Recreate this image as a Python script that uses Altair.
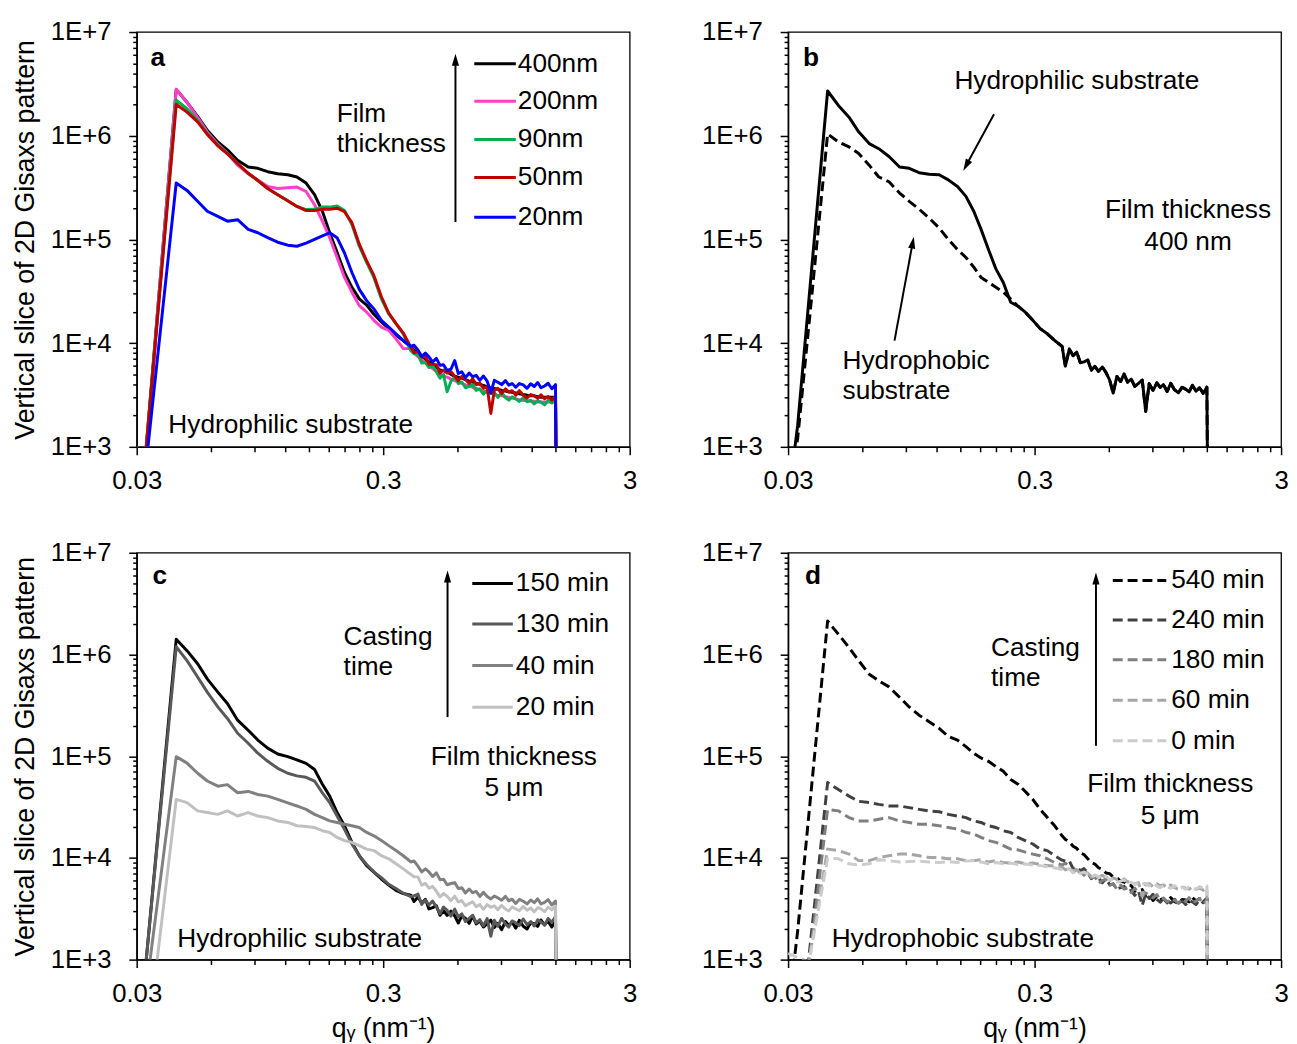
import math
import altair as alt
import pandas as pd

# ---------------------------------------------------------------- data
Q = [0.030, 0.0328, 0.0365, 0.0434,
     0.048, 0.053, 0.058, 0.064, 0.070, 0.077, 0.085, 0.093, 0.102, 0.112,
     0.123, 0.134, 0.146, 0.158, 0.170, 0.182, 0.195, 0.209, 0.224, 0.240,
     0.257, 0.275, 0.295, 0.316, 0.338, 0.362,
     0.388, 0.40, 0.415, 0.43, 0.445, 0.46, 0.476, 0.493, 0.51, 0.527,
     0.545, 0.565, 0.585, 0.605, 0.625, 0.647, 0.67, 0.692, 0.715, 0.74,
     0.765, 0.792, 0.82, 0.847, 0.875, 0.907, 0.94, 0.97, 1.00, 1.035,
     1.07, 1.11, 1.15, 1.19, 1.23, 1.27, 1.31, 1.355, 1.40, 1.45, 1.50,
     1.51]

# panel a : hydrophilic substrate, film thickness series
A_NAMES = ["400nm", "200nm", "90nm", "50nm", "20nm"]
A_400 = [300, 1000, 2.1e4, 2.8e6,
         2.1e6, 1.54e6, 1.13e6, 8.7e5, 7.3e5, 5.8e5, 5.0e5, 4.85e5, 4.5e5, 4.3e5,
         4.2e5, 4.0e5, 3.5e5, 2.7e5, 1.87e5, 1.16e5, 7.5e4, 4.8e4, 3.45e4, 2.67e4,
         2.33e4, 1.9e4, 1.6e4, 1.38e4, 1.19e4, 1.06e4,
         9.2e3, 8.6e3, 8.0e3, 7.5e3, 7.0e3, 6.6e3, 6.3e3, 5.9e3, 5.5e3, 5.4e3,
         5.3e3, 5.0e3, 4.8e3, 4.7e3, 4.6e3, 4.45e3, 4.3e3, 4.2e3, 4.1e3, 4.0e3,
         3.9e3, 3.8e3, 3.7e3, 3.65e3, 3.6e3, 3.5e3, 3.45e3, 3.4e3, 3.35e3, 3.3e3,
         3.25e3, 3.2e3, 3.15e3, 3.1e3, 3.1e3, 3.05e3, 3.0e3, 3.0e3, 3.0e3, 3.0e3, 3.0e3,
         500]
A_200 = [1000, 700, 2.1e4, 2.8e6,
         2.1e6, 1.5e6, 1.09e6, 8.3e5, 6.75e5, 5.2e5, 4.3e5, 3.75e5, 3.24e5, 3.1e5,
         3.15e5, 3.2e5, 2.9e5, 2.16e5, 1.5e5, 1.04e5, 6.7e4, 4.3e4, 3.1e4, 2.3e4,
         1.99e4, 1.66e4, 1.43e4, 1.33e4, 1.1e4, 8.85e3,
         8.9e3, 8.0e3, 7.4e3, 6.9e3, 6.4e3, 6.0e3, 5.7e3, 5.3e3, 5.0e3, 4.8e3,
         4.7e3, 4.5e3, 4.35e3, 4.2e3, 4.1e3, 3.95e3, 3.85e3, 3.75e3, 3.65e3, 3.55e3,
         3.45e3, 3.35e3, 3.3e3, 3.2e3, 3.15e3, 3.1e3, 3.05e3, 3.0e3, 2.95e3, 2.9e3,
         2.85e3, 2.8e3, 2.8e3, 2.75e3, 2.75e3, 2.7e3, 2.7e3, 2.7e3, 2.7e3, 2.7e3, 2.7e3,
         500]
A_90 = [300, 1000, 1.9e4, 2.2e6,
        1.82e6, 1.41e6, 1.05e6, 8.1e5, 6.75e5, 5.4e5, 4.35e5, 3.7e5, 3.1e5, 2.7e5,
        2.36e5, 2.08e5, 1.94e5, 1.95e5, 2.05e5, 2.05e5, 2.1e5, 1.9e5, 1.39e5, 8.6e4,
        6.0e4, 4.3e4, 2.67e4, 1.91e4, 1.54e4, 1.23e4,
        8.46e3, 7.92e3, 7.77e3, 6.42e3, 6.53e3, 5.82e3, 6.04e3, 5.3e3, 4.6e3, 4.99e3,
        3.4e3, 4.28e3, 4.7e3, 4.07e3, 4.22e3, 3.71e3, 3.85e3, 3.98e3, 3.5e3, 3.62e3,
        3.21e3, 3.52e3, 3.27e3, 3.33e3, 2.99e3, 3.32e3, 2.99e3, 2.82e3, 3.04e3, 2.9e3,
        2.74e3, 2.97e3, 2.72e3, 2.81e3, 2.59e3, 2.78e3, 2.7e3, 2.54e3, 2.81e3, 2.65e3, 2.89e3,
        500]
A_50 = [300, 1000, 1.82e4, 2.0e6,
        1.69e6, 1.36e6, 1.03e6, 8.0e5, 6.7e5, 5.4e5, 4.35e5, 3.7e5, 3.1e5, 2.7e5,
        2.36e5, 2.08e5, 1.9e5, 1.9e5, 1.95e5, 1.95e5, 2.0e5, 1.85e5, 1.45e5, 9.0e4,
        6.2e4, 4.5e4, 2.8e4, 1.95e4, 1.55e4, 1.25e4,
        9.2e3, 8.08e3, 8.32e3, 7.35e3, 7.49e3, 6.27e3, 6.24e3, 6.2e3, 5.12e3, 5.51e3,
        5.14e3, 5.3e3, 4.8e3, 4.32e3, 4.78e3, 4.49e3, 4.09e3, 4.54e3, 3.98e3, 4.12e3,
        3.67e3, 3.8e3, 2.1e3, 3.5e3, 3.67e3, 3.26e3, 3.62e3, 3.37e3, 3.48e3, 3.14e3,
        3.48e3, 3.14e3, 2.96e3, 3.19e3, 3.1e3, 2.93e3, 3.18e3, 2.91e3, 3.06e3, 2.82e3, 3.09e3,
        500]
A_20 = [100, 700, 7.5e3, 3.5e5,
        2.97e5, 2.33e5, 1.87e5, 1.67e5, 1.5e5, 1.55e5, 1.25e5, 1.16e5, 1.04e5, 9.4e4,
        8.8e4, 8.6e4, 9.2e4, 1.0e5, 1.08e5, 1.16e5, 1.04e5, 7.4e4, 4.8e4, 3.3e4,
        2.57e4, 2.14e4, 1.66e4, 1.43e4, 1.23e4, 1.06e4,
        9.31e3, 9.54e3, 8.6e3, 7.45e3, 8.01e3, 7.37e3, 6.56e3, 7.13e3, 6.11e3, 6.18e3,
        5.45e3, 5.6e3, 6.8e3, 5.09e3, 5.3e3, 4.65e3, 5.15e3, 4.75e3, 4.89e3, 4.37e3,
        4.82e3, 4.31e3, 3.3e3, 4.38e3, 4.2e3, 3.98e3, 4.35e3, 3.93e3, 4.08e3, 3.76e3,
        4.07e3, 3.95e3, 3.67e3, 4.06e3, 3.82e3, 4.17e3, 3.71e3, 3.86e3, 4.1e3, 3.63e3, 3.98e3,
        500]
A_VALUES = [A_400, A_200, A_90, A_50, A_20]

# panel b : 400 nm film, hydrophilic vs hydrophobic substrate
B_NAMES = ["Hydrophilic", "Hydrophobic"]
B_PHIL = [300, 1.6e3, 2.75e4, 2.7e6,
          1.96e6, 1.51e6, 1.09e6, 8.4e5, 7.5e5, 6.3e5, 5.0e5, 4.85e5, 4.4e5, 4.25e5,
          4.2e5, 3.75e5, 3.24e5, 2.6e5, 1.87e5, 1.25e5, 8.0e4, 5.2e4, 3.85e4, 2.48e4,
          2.27e4, 1.99e4, 1.66e4, 1.38e4, 1.23e4, 1.06e4,
          9.3e3, 6.0e3, 8.8e3, 7.57e3, 8.18e3, 6.48e3, 6.6e3, 6.88e3, 5.46e3, 5.97e3,
          5.35e3, 5.89e3, 5.2e3, 4.4e3, 3.3e3, 4.77e3, 4.26e3, 5.04e3, 4.2e3, 4.49e3,
          3.82e3, 4.1e3, 4.41e3, 2.2e3, 4.07e3, 3.49e3, 4.14e3, 3.74e3, 3.98e3, 3.42e3,
          4.09e3, 3.54e3, 3.32e3, 3.76e3, 3.6e3, 3.38e3, 3.92e3, 3.44e3, 3.71e3, 3.28e3, 3.76e3,
          500]
B_PHOB = [300, 1.2e3, 1.55e4, 1.04e6,
          8.7e5, 7.8e5, 6.75e5, 5.2e5, 4.0e5, 3.6e5, 2.8e5, 2.33e5, 1.96e5, 1.61e5,
          1.29e5, 1.0e5, 8.0e4, 6.7e4, 5.4e4, 4.3e4, 3.85e4, 3.45e4, 3.1e4, 2.67e4,
          2.27e4, 1.99e4, 1.66e4, 1.38e4, 1.23e4, 1.06e4,
          9.3e3, 6.0e3, 8.8e3, 7.57e3, 8.18e3, 6.48e3, 6.6e3, 6.88e3, 5.46e3, 5.97e3,
          5.35e3, 5.89e3, 5.2e3, 4.4e3, 3.3e3, 4.77e3, 4.26e3, 5.04e3, 4.2e3, 4.49e3,
          3.82e3, 4.1e3, 4.41e3, 2.2e3, 4.07e3, 3.49e3, 4.14e3, 3.74e3, 3.98e3, 3.42e3,
          4.09e3, 3.54e3, 3.32e3, 3.76e3, 3.6e3, 3.38e3, 3.92e3, 3.44e3, 3.71e3, 3.28e3, 3.76e3,
          500]
B_VALUES = [B_PHIL, B_PHOB]

# panel c : 5 um film on hydrophilic substrate, casting time series
C_NAMES = ["150 min", "130 min", "40 min", "20 min"]
C_150 = [300, 1000, 1.6e4, 1.41e6,
         1.09e6, 8.1e5, 5.75e5, 4.26e5, 3.3e5, 2.26e5, 1.8e5, 1.44e5, 1.2e5, 1.05e5,
         9.9e4, 9.2e4, 8.5e4, 7.4e4, 5.3e4, 4.05e4, 2.79e4, 2.07e4, 1.42e4, 1.05e4,
         8.4e3, 7.25e3, 6.2e3, 5.4e3, 4.8e3, 4.46e3,
         4.3e3, 3.73e3, 4.13e3, 3.59e3, 3.92e3, 3.15e3, 3.25e3, 3.39e3, 2.73e3, 3.04e3,
         2.72e3, 3.0e3, 2.7e3, 2.29e3, 2.7e3, 2.54e3, 2.27e3, 2.69e3, 2.24e3, 2.4e3,
         2.09e3, 2.25e3, 2.45e3, 2.07e3, 2.27e3, 1.97e3, 2.37e3, 2.17e3, 2.33e3, 2.04e3,
         2.43e3, 2.13e3, 2.0e3, 2.3e3, 2.25e3, 2.12e3, 2.45e3, 2.2e3, 2.37e3, 2.09e3, 2.4e3,
         500]
C_130 = [300, 1000, 1.5e4, 1.19e6,
         8.7e5, 6.0e5, 4.26e5, 3.05e5, 2.35e5, 1.68e5, 1.34e5, 1.07e5, 8.9e4, 7.6e4,
         6.8e4, 6.4e4, 6.2e4, 5.7e4, 4.36e4, 3.5e4, 2.58e4, 1.91e4, 1.37e4, 1.05e4,
         8.6e3, 7.3e3, 6.4e3, 5.5e3, 5.0e3, 4.5e3,
         4.16e3, 4.24e3, 4.41e3, 3.49e3, 3.86e3, 3.44e3, 3.76e3, 3.3e3, 2.82e3, 3.29e3,
         3.05e3, 2.68e3, 3.14e3, 2.63e3, 2.82e3, 2.37e3, 2.55e3, 2.73e3, 2.3e3, 2.47e3,
         2.15e3, 2.53e3, 1.7e3, 2.44e3, 2.13e3, 2.54e3, 2.23e3, 2.09e3, 2.4e3, 2.3e3,
         2.16e3, 2.51e3, 2.2e3, 2.37e3, 2.14e3, 2.46e3, 2.35e3, 2.18e3, 2.54e3, 2.33e3, 2.65e3,
         500]
C_40 = [100, 508, 3.8e3, 9.9e4,
        8.55e4, 6.8e4, 5.7e4, 5.07e4, 5.25e4, 4.37e4, 4.5e4, 4.2e4, 4.05e4, 3.76e4,
        3.48e4, 3.24e4, 3.0e4, 2.68e4, 2.49e4, 2.31e4, 2.23e4, 2.14e4, 2.07e4, 1.99e4,
        1.78e4, 1.65e4, 1.48e4, 1.32e4, 1.18e4, 1.05e4,
        9.12e3, 9.33e3, 8.3e3, 7.27e3, 7.8e3, 7.27e3, 6.56e3, 7.13e3, 6.11e3, 6.18e3,
        5.45e3, 5.6e3, 5.72e3, 4.99e3, 5.1e3, 4.51e3, 4.94e3, 4.55e3, 4.68e3, 4.18e3,
        4.6e3, 4.17e3, 3.95e3, 4.22e3, 4.05e3, 3.84e3, 4.19e3, 3.78e3, 3.93e3, 3.57e3,
        3.91e3, 3.75e3, 3.53e3, 3.85e3, 3.63e3, 3.96e3, 3.52e3, 3.66e3, 3.89e3, 3.44e3, 3.77e3,
        500]
C_20 = [50, 124, 1.1e3, 3.76e4,
        3.5e4, 2.9e4, 2.79e4, 2.68e4, 2.9e4, 2.58e4, 2.79e4, 2.58e4, 2.49e4, 2.31e4,
        2.23e4, 2.07e4, 2.04e4, 1.99e4, 1.85e4, 1.78e4, 1.59e4, 1.48e4, 1.42e4, 1.32e4,
        1.22e4, 1.18e4, 1.05e4, 9.8e3, 8.75e3, 7.8e3,
        6.89e3, 6.53e3, 6.51e3, 5.39e3, 5.61e3, 5.04e3, 5.25e3, 4.7e3, 4.14e3, 4.47e3,
        4.19e3, 3.8e3, 4.21e3, 3.69e3, 3.81e3, 3.38e3, 3.55e3, 3.71e3, 3.31e3, 3.47e3,
        3.12e3, 3.47e3, 3.27e3, 3.38e3, 3.09e3, 3.42e3, 3.14e3, 3.01e3, 3.3e3, 3.15e3,
        3.02e3, 3.34e3, 3.06e3, 3.21e3, 2.96e3, 3.24e3, 3.15e3, 2.96e3, 3.28e3, 3.09e3, 3.37e3,
        500]
C_VALUES = [C_150, C_130, C_40, C_20]

# panel d : 5 um film on hydrophobic substrate, casting time series
D_NAMES = ["540 min", "240 min", "180 min", "60 min", "0 min"]
D_540 = [300, 1.9e3, 2.8e4, 2.13e6,
         1.58e6, 1.17e6, 8.7e5, 6.4e5, 5.5e5, 4.8e5, 3.8e5, 3.05e5, 2.53e5, 2.18e5,
         1.88e5, 1.56e5, 1.44e5, 1.24e5, 1.07e5, 9.6e4, 8.9e4, 7.9e4, 7.1e4, 5.9e4,
         5.3e4, 4.5e4, 3.76e4, 3.0e4, 2.49e4, 2.07e4,
         1.65e4, 1.52e4, 1.44e4, 1.3e4, 1.24e4, 1.12e4, 1.08e4, 9.8e3, 9.0e3, 8.7e3,
         8.0e3, 7.7e3, 7.1e3, 7.0e3, 6.5e3, 6.4e3, 5.9e3, 5.8e3, 5.4e3, 5.36e3,
         4.7e3, 4.8e3, 4.88e3, 4.22e3, 4.34e3, 3.81e3, 4.2e3, 3.86e3, 4.0e3, 3.61e3,
         4.07e3, 3.72e3, 3.57e3, 3.91e3, 3.85e3, 3.7e3, 4.08e3, 3.78e3, 3.98e3, 3.67e3, 4.02e3,
         500]
D_240 = [100, 100, 1.1e3, 5.5e4,
         4.7e4, 4.05e4, 3.6e4, 3.5e4, 3.36e4, 3.24e4, 3.24e4, 3.12e4, 3.0e4, 2.89e4,
         2.84e4, 2.68e4, 2.58e4, 2.49e4, 2.31e4, 2.23e4, 2.07e4, 1.99e4, 1.85e4, 1.78e4,
         1.59e4, 1.48e4, 1.37e4, 1.22e4, 1.18e4, 1.05e4,
         9.5e3, 9.31e3, 9.35e3, 7.81e3, 8.16e3, 7.47e3, 7.84e3, 7.1e3, 6.26e3, 6.76e3,
         6.36e3, 5.7e3, 6.26e3, 5.43e3, 5.56e3, 4.94e3, 5.1e3, 5.25e3, 4.61e3, 4.79e3,
         4.28e3, 4.73e3, 3.4e3, 4.47e3, 3.99e3, 4.39e3, 3.92e3, 3.67e3, 3.97e3, 3.8e3,
         3.6e3, 3.92e3, 3.59e3, 3.77e3, 3.48e3, 3.81e3, 3.7e3, 3.48e3, 3.85e3, 3.63e3, 3.96e3,
         500]
D_180 = [100, 100, 900, 3.0e4,
         2.9e4, 2.49e4, 2.31e4, 2.31e4, 2.4e4, 2.49e4, 2.31e4, 2.23e4, 2.14e4, 2.14e4,
         2.07e4, 1.99e4, 1.92e4, 1.78e4, 1.72e4, 1.59e4, 1.48e4, 1.42e4, 1.32e4, 1.22e4,
         1.2e4, 1.14e4, 1.09e4, 1.05e4, 9.8e3, 9.0e3,
         8.49e3, 8.9e3, 8.1e3, 7.18e3, 7.8e3, 7.37e3, 6.75e3, 7.34e3, 6.4e3, 6.59e3,
         5.6e3, 6.0e3, 6.15e3, 5.38e3, 5.56e3, 4.93e3, 5.41e3, 4.95e3, 5.1e3, 4.56e3,
         5.03e3, 4.51e3, 4.23e3, 4.53e3, 4.3e3, 4.03e3, 4.35e3, 3.88e3, 4.03e3, 3.67e3,
         3.97e3, 3.85e3, 3.57e3, 3.95e3, 3.72e3, 4.07e3, 3.61e3, 3.76e3, 3.99e3, 3.53e3, 3.88e3,
         500]
D_60 = [500, 600, 1.0e3, 1.22e4,
        1.18e4, 1.09e4, 9.4e3, 9.4e3, 1.01e4, 1.05e4, 1.09e4, 1.09e4, 1.05e4, 1.01e4,
        1.01e4, 9.8e3, 9.8e3, 9.4e3, 9.4e3, 9.6e3, 9.1e3, 9.4e3, 9.0e3, 8.9e3,
        9.1e3, 8.75e3, 8.9e3, 8.6e3, 8.4e3, 8.3e3,
        8.1e3, 7.62e3, 7.88e3, 7.51e3, 7.71e3, 6.98e3, 7.06e3, 7.11e3, 6.51e3, 6.78e3,
        6.48e3, 6.73e3, 6.4e3, 6.0e3, 6.35e3, 6.14e3, 5.82e3, 6.24e3, 5.79e3, 5.9e3,
        5.54e3, 5.7e3, 4.2e3, 5.47e3, 5.57e3, 5.22e3, 5.56e3, 5.32e3, 5.43e3, 5.09e3,
        5.42e3, 5.09e3, 4.92e3, 5.19e3, 5.05e3, 4.93e3, 5.18e3, 4.91e3, 5.06e3, 4.82e3, 5.09e3,
        500]
D_0 = [1.15e3, 1.05e3, 950, 9.9e3,
       9.8e3, 8.75e3, 8.5e3, 8.75e3, 9.6e3, 9.4e3, 9.1e3, 9.2e3, 9.3e3, 9.1e3,
       9.0e3, 9.2e3, 9.0e3, 9.3e3, 9.4e3, 9.1e3, 8.75e3, 9.0e3, 8.75e3, 8.9e3,
       8.6e3, 8.7e3, 8.5e3, 8.4e3, 8.2e3, 8.0e3,
       7.66e3, 7.65e3, 7.83e3, 7.14e3, 7.39e3, 7.02e3, 7.25e3, 6.9e3, 6.43e3, 6.76e3,
       6.54e3, 6.21e3, 6.6e3, 6.09e3, 6.21e3, 5.78e3, 5.9e3, 6.06e3, 5.66e3, 5.77e3,
       5.41e3, 5.77e3, 5.52e3, 5.63e3, 5.29e3, 5.63e3, 5.29e3, 5.11e3, 5.34e3, 5.2e3,
       5.03e3, 5.34e3, 5.01e3, 5.16e3, 4.92e3, 5.19e3, 5.1e3, 4.92e3, 5.22e3, 5.04e3, 5.31e3,
       500]
D_VALUES = [D_540, D_240, D_180, D_60, D_0]

# texts
Y_TITLE = "Vertical slice of 2D Gisaxs pattern"
X_TITLE = "q\u1d67 (nm\u207b\u00b9)"
PANEL_LABELS = ["a", "b", "c", "d"]
T_FILM = "Film"
T_THICK = "thickness"
T_CAST = "Casting"
T_TIME = "time"
T_FT = "Film thickness"
T_400 = "400 nm"
T_5UM = "5 \u03bcm"
T_PHIL = "Hydrophilic substrate"
T_PHOB = "Hydrophobic substrate"
T_PHOB1 = "Hydrophobic"
T_PHOB2 = "substrate"

# ---------------------------------------------------------------- styles
FONT = "Liberation Sans"
FS = 26          # axis labels
FTT = 27         # axis titles
FT = 26.5        # annotation text
W = 498
H_TOP = 419
H_BOT = 411
A_COLORS = ["#000000", "#ff3fc8", "#00b050", "#c00000", "#0000ff"]
B_COLORS = ["#000000", "#000000"]
C_COLORS = ["#000000", "#595959", "#808080", "#c0c0c0"]
D_COLORS = ["#000000", "#404040", "#7f7f7f", "#a6a6a6", "#cccccc"]
DASH = [10, 5]
HEAD = "M0,0 L0.3,1 L-0.3,1 Z"

X_TICKS = ([round(0.03 * k, 4) for k in range(1, 10)]
           + [round(0.3 * k, 3) for k in range(1, 10)] + [3.0])
Y_TICKS = [k * 10 ** e for e in range(3, 7) for k in range(1, 10)] + [10 ** 7]

X_MAJOR = ("abs(datum.value-0.03)<1e-6 || abs(datum.value-0.3)<1e-6 || "
           "abs(datum.value-3)<1e-6")
X_LABELS = ("abs(datum.value-0.03)<1e-6 ? '0.03' : abs(datum.value-0.3)<1e-6 ? '0.3' : "
            "abs(datum.value-3)<1e-6 ? '3' : ''")
Y_MAJOR = ("datum.value==1000 || datum.value==10000 || datum.value==100000 || "
           "datum.value==1000000 || datum.value==10000000")
Y_LABELS = ("datum.value==1000 ? '1E+3' : datum.value==10000 ? '1E+4' : "
            "datum.value==100000 ? '1E+5' : datum.value==1000000 ? '1E+6' : "
            "datum.value==10000000 ? '1E+7' : ''")


def x_axis(title):
    return alt.Axis(title=title, values=X_TICKS, labelExpr=X_LABELS,
                    tickSize={"condition": {"test": X_MAJOR, "value": 8}, "value": 5},
                    labelPadding=13, titlePadding=10, labelFlush=False,
                    labelOverlap=False, grid=False)


def y_axis(title):
    return alt.Axis(title=title, values=Y_TICKS, labelExpr=Y_LABELS,
                    tickSize={"condition": {"test": Y_MAJOR, "value": 8}, "value": 4},
                    labelPadding=18, titlePadding=11, labelFlush=False,
                    labelOverlap=False, grid=False)


def long_df(names, values):
    recs = []
    for n, vals in zip(names, values):
        assert len(vals) == len(Q), (n, len(vals), len(Q))
        for q, v in zip(Q, vals):
            recs.append({"q": q, "I": v, "series": n})
    return pd.DataFrame(recs)


def lines(names, values, colors, order, xt, yt, dashes=None):
    df = long_df(names, values)
    x = alt.X("q:Q", scale=alt.Scale(type="log", domain=[0.03, 3], nice=False),
              axis=x_axis(xt))
    y = alt.Y("I:Q", scale=alt.Scale(type="log", domain=[1000, 10000000], nice=False),
              axis=y_axis(yt))
    color = alt.Color("series:N", scale=alt.Scale(domain=names, range=colors),
                      legend=None)
    out = []
    for n in order:
        mk = dict(strokeWidth=3, clip=True, strokeJoin="round")
        if dashes and dashes.get(n):
            mk["strokeDash"] = dashes[n]
        out.append(alt.Chart(df).transform_filter(alt.datum.series == n)
                   .mark_line(**mk).encode(x=x, y=y, color=color))
    return out


def note(s, x, y, align="left", bold=False):
    return (alt.Chart(pd.DataFrame({"t": [s]}))
            .mark_text(align=align, baseline="middle", font=FONT, fontSize=FT,
                       fontWeight="bold" if bold else "normal", color="black")
            .encode(x=alt.value(x), y=alt.value(y), text="t:N"))


def arrow(x0, y0, xt, yt, back=6):
    dx, dy = xt - x0, yt - y0
    length = math.hypot(dx, dy)
    xe, ye = xt - back * dx / length, yt - back * dy / length
    ang = math.degrees(math.atan2(dx, -dy)) % 360
    one = pd.DataFrame({"k": [0]})
    shaft = (alt.Chart(one).mark_rule(color="black", strokeWidth=2)
             .encode(x=alt.value(x0), y=alt.value(y0), x2=alt.value(xe), y2=alt.value(ye)))
    head = (alt.Chart(one).mark_point(shape=HEAD, size=576, filled=True, color="black",
                                      opacity=1, strokeWidth=0, angle=ang)
            .encode(x=alt.value(xt), y=alt.value(yt)))
    return [shaft, head]


def legend(names, colors, x1, x2, xl, ys, dash=None):
    out = []
    for n, c, yy in zip(names, colors, ys):
        d = pd.DataFrame({"label": [n]})
        mk = dict(color=c, strokeWidth=3)
        if dash:
            mk["strokeDash"] = dash
        out.append(alt.Chart(d).mark_rule(**mk)
                   .encode(x=alt.value(x1), x2=alt.value(x2), y=alt.value(yy)))
        out.append(alt.Chart(d).mark_text(align="left", baseline="middle", font=FONT,
                                          fontSize=FT, color="black")
                   .encode(x=alt.value(xl), y=alt.value(yy), text="label:N"))
    return out


# ---------------------------------------------------------------- panels
pa = alt.layer(
    *lines(A_NAMES, A_VALUES, A_COLORS, A_NAMES, None, Y_TITLE),
    *legend(A_NAMES, A_COLORS, 341, 383, 385, [32, 70, 108.5, 147, 187]),
    note(PANEL_LABELS[0], 14, 26, bold=True),
    note(T_FILM, 202, 83), note(T_THICK, 202, 113),
    note(T_PHIL, 32, 397),
    *arrow(322, 192, 322, 22),
).properties(width=W, height=H_TOP)

pb = alt.layer(
    *lines(B_NAMES, B_VALUES, B_COLORS, ["Hydrophobic", "Hydrophilic"], None, None,
           dashes={"Hydrophobic": DASH}),
    note(PANEL_LABELS[1], 15, 26, bold=True),
    note(T_PHIL, 168, 50),
    note(T_FT, 404, 180, align="center"), note(T_400, 404, 212, align="center"),
    note(T_PHOB1, 55, 332), note(T_PHOB2, 55, 363),
    *arrow(208, 83, 177, 140),
    *arrow(107.5, 311.7, 127, 206.7),
).properties(width=W, height=H_TOP)

pc = alt.layer(
    *lines(C_NAMES, C_VALUES, C_COLORS, C_NAMES, X_TITLE, Y_TITLE),
    *legend(C_NAMES, C_COLORS, 339, 380, 383, [31, 72, 114, 156]),
    note(PANEL_LABELS[2], 16, 24, bold=True),
    note(T_CAST, 209, 85), note(T_TIME, 209, 115),
    note(T_FT, 381, 206, align="center"), note(T_5UM, 381, 238, align="center"),
    note(T_PHIL, 41, 390),
    *arrow(314, 166, 314, 18),
).properties(width=W, height=H_BOT)

pdd = alt.layer(
    *lines(D_NAMES, D_VALUES, D_COLORS, D_NAMES, X_TITLE, None,
           dashes={n: DASH for n in D_NAMES}),
    *legend(D_NAMES, D_COLORS, 328, 382, 387, [28, 68, 108, 149, 190], dash=DASH),
    note(PANEL_LABELS[3], 17, 24, bold=True),
    note(T_CAST, 205, 96), note(T_TIME, 205, 127),
    note(T_FT, 386, 234, align="center"), note(T_5UM, 386, 266, align="center"),
    note(T_PHOB, 44, 390),
    *arrow(311, 195, 311, 20),
).properties(width=W, height=H_BOT)

chart = (
    alt.concat(pa, pb, pc, pdd, columns=2, spacing={"row": 107, "column": 160},
               bounds="flush")
    .resolve_scale(x="independent", y="independent", color="independent")
    .properties(padding={"left": 2, "top": 5, "right": 0, "bottom": 0})
    .configure_view(stroke="black", strokeWidth=1.3)
    .configure_axis(domainColor="black", domainWidth=1.5, tickColor="black",
                    tickWidth=1.5, labelColor="black", titleColor="black",
                    labelFont=FONT, titleFont=FONT, labelFontSize=FS,
                    titleFontSize=FTT, titleFontWeight="normal")
)

chart.save("out.html", embed_options={"renderer": "svg", "actions": False})
